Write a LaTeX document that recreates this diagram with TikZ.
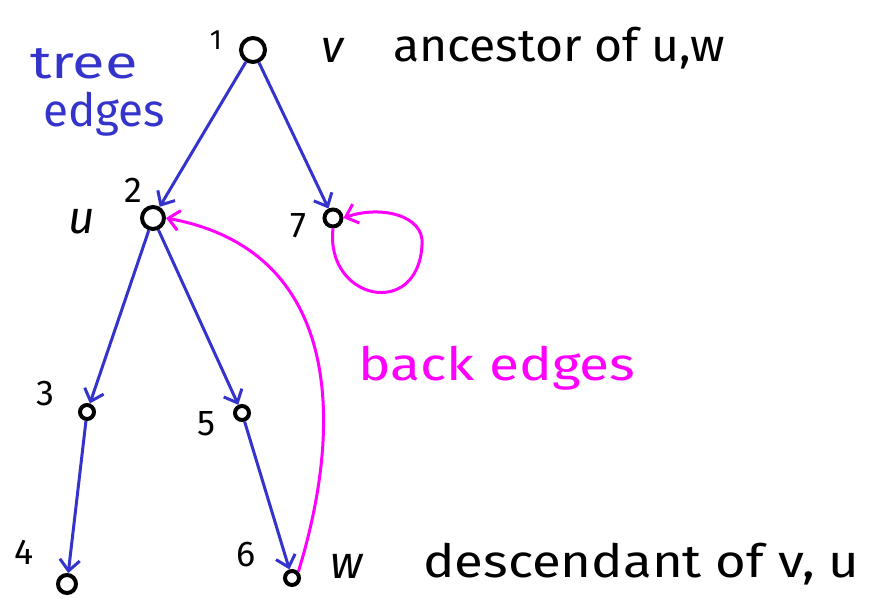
\documentclass[tikz,border=0pt]{standalone}
\usepackage{fontspec}
\usepackage{graphicx}
\setmainfont{Fira Sans}
\usetikzlibrary{arrows.meta}
\definecolor{treeblue}{RGB}{52,52,204}
\definecolor{backmag}{RGB}{255,0,255}
\begin{document}
\begin{tikzpicture}[x=1bp,y=-1bp,
  vtx/.style={circle,draw=black,line width=4bp,inner sep=0pt},
  tree/.style={draw=treeblue,line width=3bp,-{Straight Barb[length=11bp,width=20bp,line width=3bp]}},
  back/.style={draw=backmag,line width=3bp,-{Straight Barb[length=11bp,width=20bp,line width=3bp]}},
  lbl/.style={font=\fontsize{46}{48}\selectfont,inner sep=0pt},
  num/.style={font=\fontsize{36}{38}\selectfont,inner sep=0pt}]
\useasboundingbox (0,0) rectangle (879,604);
% vertices
\node[vtx,minimum size=24bp] (n1) at (253,50) {};
\node[vtx,minimum size=22bp] (n2) at (153,218) {};
\node[vtx,minimum size=17bp] (n7) at (333,218) {};
\node[vtx,minimum size=14bp] (n3) at (87,412) {};
\node[vtx,minimum size=14bp] (n5) at (242,413) {};
\node[vtx,minimum size=18bp] (n4) at (67,584) {};
\node[vtx,minimum size=14bp] (n6) at (292,578) {};
% numbers
\node[num,font=\fontsize{28}{30}\selectfont] (t1) at (216,40) {1};
\node[num] (t2) at (133,190) {2};
\node[num] (t7) at (298,226) {7};
\node[num] (t3) at (45,394) {3};
\node[num] (t5) at (206,424) {5};
\node[num] (t4) at (24,552) {4};
\node[num] (t6) at (246,555) {6};
% letters
\node[lbl] (lu) at (82,222) {\itshape u};
\node[lbl] (lv) at (333,50) {\itshape v};
\node[lbl,anchor=west] (la) at (393,48) {\scalebox{1.05}[1]{ancestor of u,w}};
\node[lbl] (lw) at (347,566) {\itshape w};
\node[lbl,anchor=west] (ld) at (423,564) {\scalebox{1.15}[1]{descendant of v, u}};
\node[lbl,text=treeblue,anchor=west] (te1) at (30,64) {\scalebox{1.3}[1]{tree}};
\node[lbl,text=treeblue,anchor=west] (te2) at (43,114) {edges};
\node[lbl,text=backmag,anchor=west] (be) at (358,368) {\scalebox{1.2}[1]{back edges}};
% tree edges
\draw[tree] (n1) -- (n2);
\draw[tree] (n1) -- (n7);
\draw[tree] (n2) -- (n3);
\draw[tree] (n2) -- (n5);
\draw[tree] (n3) -- (n4);
\draw[tree] (n5) -- (n6);
% back edges
\draw[back] (n6.north east) .. controls (345,420) and (340,250) .. (n2.east);
\coordinate (lp) at (422,245);
\draw[draw=backmag,line width=3bp] (n7.south) .. controls (325,300) and (418,320) .. (lp);
\draw[back] (lp) .. controls (425,215) and (380,205) .. (n7.east);
\end{tikzpicture}
\end{document}
